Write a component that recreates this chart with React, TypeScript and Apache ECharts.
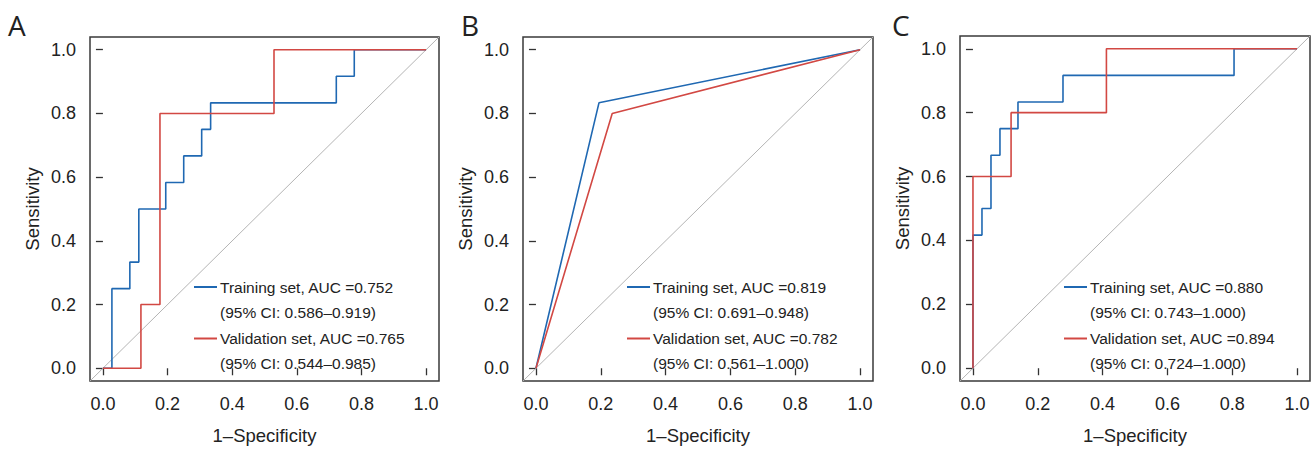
import React, { useEffect, useRef } from "react";
import * as echarts from "echarts";

// ---------- data ----------
const tickValues = [0, 0.2, 0.4, 0.6, 0.8, 1.0];
const axisRange = [-0.04, 1.04];
const diagonal = [[-0.04, -0.04], [1.04, 1.04]];
const panelLetters = ["A", "B", "C"];
const seriesNames = ["Training set", "Validation set"];

// Panel A
const trainA_fpr = [0, 0.0278, 0.0278, 0.0833, 0.0833, 0.1111, 0.1111, 0.1944, 0.1944, 0.25, 0.25, 0.3056, 0.3056, 0.3333, 0.3333, 0.7222, 0.7222, 0.7778, 0.7778, 1];
const trainA_tpr = [0, 0, 0.25, 0.25, 0.3333, 0.3333, 0.5, 0.5, 0.5833, 0.5833, 0.6667, 0.6667, 0.75, 0.75, 0.8333, 0.8333, 0.9167, 0.9167, 1, 1];
const validA_fpr = [0, 0.1176, 0.1176, 0.1765, 0.1765, 0.5294, 0.5294, 1];
const validA_tpr = [0, 0, 0.2, 0.2, 0.8, 0.8, 1, 1];

// Panel B
const trainB_fpr = [0, 0.1944, 1];
const trainB_tpr = [0, 0.8333, 1];
const validB_fpr = [0, 0.2353, 1];
const validB_tpr = [0, 0.8, 1];

// Panel C
const trainC_fpr = [0, 0, 0.0278, 0.0278, 0.0556, 0.0556, 0.0833, 0.0833, 0.1389, 0.1389, 0.2778, 0.2778, 0.8056, 0.8056, 1];
const trainC_tpr = [0, 0.4167, 0.4167, 0.5, 0.5, 0.6667, 0.6667, 0.75, 0.75, 0.8333, 0.8333, 0.9167, 0.9167, 1, 1];
const validC_fpr = [0, 0, 0.1176, 0.1176, 0.4118, 0.4118, 1];
const validC_tpr = [0, 0.6, 0.6, 0.8, 0.8, 1, 1];

const aucTrain = ["0.752", "0.819", "0.880"];
const ciTrain = ["0.586–0.919", "0.691–0.948", "0.743–1.000"];
const aucValid = ["0.765", "0.782", "0.894"];
const ciValid = ["0.544–0.985", "0.561–1.000", "0.724–1.000"];

// ---------- style / layout ----------
const FONT = "Liberation Sans, Arial, Helvetica, sans-serif";
const TEXT = "#222222";
const BLUE = "#1f68b2";
const RED = "#d24843";
const GRAY = "#b4b4b4";
const grids = [
  { left: 90, top: 37, width: 349, height: 348 },
  { left: 523, top: 37, width: 350, height: 348 },
  { left: 960, top: 36, width: 350, height: 349 },
];
const letterX = [8, 461, 892];

const zip = (a: number[], b: number[]) => a.map((v, i) => [v, b[i]]);

export default function App() {
  const ref = useRef<HTMLDivElement>(null);
  useEffect(() => {
    if (!ref.current) return;
    const chart = echarts.init(ref.current, undefined, { renderer: "svg" });
    const curves = [
      [zip(trainA_fpr, trainA_tpr), zip(validA_fpr, validA_tpr)],
      [zip(trainB_fpr, trainB_tpr), zip(validB_fpr, validB_tpr)],
      [zip(trainC_fpr, trainC_tpr), zip(validC_fpr, validC_tpr)],
    ];
    const xAxes: any[] = [];
    const yAxes: any[] = [];
    const series: any[] = [];
    const graphic: any[] = [];
    grids.forEach((g, i) => {
      const common = {
        type: "value",
        gridIndex: i,
        min: axisRange[0],
        max: axisRange[1],
        axisLine: { show: false },
        splitLine: { show: false },
        axisTick: { show: true, length: 7, customValues: tickValues, lineStyle: { color: "#333", width: 1.3 } },
        axisLabel: {
          customValues: tickValues,
          formatter: (v: number) => v.toFixed(1),
          fontSize: 18,
          color: TEXT,
          fontFamily: FONT,
          margin: 14,
        },
        nameLocation: "middle",
        nameTextStyle: { fontSize: 18.5, color: TEXT, fontFamily: FONT },
      };
      xAxes.push({ ...common, name: "1–Specificity", nameGap: 45 });
      yAxes.push({ ...common, name: "Sensitivity", nameGap: 48 });
      series.push({
        type: "line", xAxisIndex: i, yAxisIndex: i, data: diagonal, showSymbol: false, silent: true,
        lineStyle: { color: GRAY, width: 1 }, z: 1,
      });
      series.push({
        type: "line", name: seriesNames[0], xAxisIndex: i, yAxisIndex: i, data: curves[i][0], showSymbol: false,
        lineStyle: { color: BLUE, width: 1.6 }, itemStyle: { color: BLUE }, z: 2,
      });
      series.push({
        type: "line", name: seriesNames[1], xAxisIndex: i, yAxisIndex: i, data: curves[i][1], showSymbol: false,
        lineStyle: { color: RED, width: 1.6 }, itemStyle: { color: RED }, z: 3,
      });
      // panel letter
      graphic.push({
        type: "text", x: letterX[i], y: 11,
        style: { text: panelLetters[i], fontSize: 28, fontFamily: "Open Sans", fontWeight: 400, fill: "#222" },
      });
      // legend
      const lx = g.left + 104;
      const tx = g.left + 130;
      const rows = [287, 312, 338.5, 363];
      const texts = [
        `${seriesNames[0]}, AUC =${aucTrain[i]}`,
        `(95% CI: ${ciTrain[i]})`,
        `${seriesNames[1]}, AUC =${aucValid[i]}`,
        `(95% CI: ${ciValid[i]})`,
      ];
      graphic.push({ type: "line", shape: { x1: lx, y1: rows[0], x2: lx + 23, y2: rows[0] }, style: { stroke: BLUE, lineWidth: 2 } });
      graphic.push({ type: "line", shape: { x1: lx, y1: rows[2], x2: lx + 23, y2: rows[2] }, style: { stroke: RED, lineWidth: 2 } });
      texts.forEach((t, k) => {
        graphic.push({
          type: "text", x: tx, y: rows[k],
          style: { text: t, fontSize: 15.5, fontFamily: FONT, fill: TEXT, verticalAlign: "middle" },
        });
      });
    });
    chart.setOption({
      animation: false,
      backgroundColor: "#fff",
      grid: grids.map((g) => ({ ...g, show: true, borderColor: "#3a3a3a", borderWidth: 1.5, containLabel: false })),
      xAxis: xAxes,
      yAxis: yAxes,
      series,
      graphic,
    });
    return () => chart.dispose();
  }, []);
  return (
    <div
      ref={ref}
      style={{ position: "fixed", left: 0, top: 0, width: 1315, height: 450, background: "#fff" }}
    />
  );
}
